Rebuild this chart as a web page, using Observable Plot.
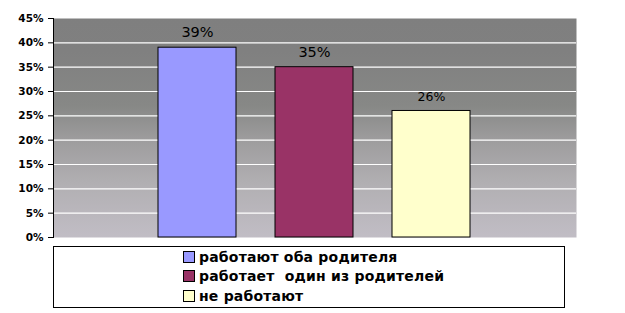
<!DOCTYPE html>
<html>
<head>
<meta charset="utf-8">
<script src="https://cdn.jsdelivr.net/npm/d3@7"></script>
<script src="https://cdn.jsdelivr.net/npm/@observablehq/plot@0.6"></script>
<style>
  body { margin: 0; background: #fff; width: 625px; height: 313px; overflow: hidden; }
  #chart { position: relative; }
  #legend { position: absolute; left: 53px; top: 246px; width: 510px; height: 60px; border: 1px solid #000; box-sizing: content-box; font: bold 14px "DejaVu Sans", sans-serif; color: #000; }
  .item { position: absolute; left: 129px; height: 16px; display: flex; align-items: center; white-space: pre; letter-spacing: 0.2px; }
  .sw { width: 10px; height: 10px; border: 1px solid #000; margin-right: 4px; }
</style>
</head>
<body>
<div id="chart"></div>
<script>
const categories = ["работают оба родителя", "работает  один из родителей", "не работают"];
const values = [0.39, 0.35, 0.26];
const labels = ["39%", "35%", "26%"];
const colors = ["#9999ff", "#993366", "#ffffcc"];
const yTicks = [0, 0.05, 0.10, 0.15, 0.20, 0.25, 0.30, 0.35, 0.40, 0.45];
const gridTicks = [0.05, 0.10, 0.15, 0.20, 0.25, 0.30, 0.35, 0.40];

const data = categories.map((c, i) => ({cat: c, value: values[i], label: labels[i], color: colors[i]}));

const plot = Plot.plot({
  width: 625,
  height: 242,
  marginLeft: 53,
  marginRight: 49,
  marginTop: 18,
  marginBottom: 5,
  style: {background: "transparent", overflow: "visible"},
  x: {domain: categories, paddingInner: 0.333, paddingOuter: 0.9, axis: null},
  y: {domain: [0, 0.45], axis: null},
  marks: [
    Plot.frame({fill: "url(#bg)", stroke: "none"}),
    Plot.ruleY(gridTicks, {stroke: "#ffffff", strokeWidth: 1.2}),
    Plot.axisY(yTicks, {
      label: null,
      tickFormat: d => Math.round(d * 100) + "%",
      tickSize: 5, tickPadding: 5, stroke: "#000", strokeOpacity: 1,
      fontFamily: "DejaVu Sans", fontWeight: "bold", fontSize: 10.5, fill: "#000"
    }),
    Plot.frame({anchor: "left", stroke: "#000", strokeOpacity: 1}),
    Plot.barY(data, {x: "cat", y: "value", fill: "color", stroke: "#000", strokeWidth: 1}),
    Plot.text(data.slice(0, 2), {x: "cat", y: "value", text: "label", dy: -15, fontFamily: "DejaVu Sans", fontSize: 14.5, fill: "#000"}),
    Plot.text(data.slice(2), {x: "cat", y: "value", text: "label", dy: -14, fontFamily: "DejaVu Sans", fontSize: 12.5, fill: "#000"})
  ]
});

// gradient background definition
const ns = "http://www.w3.org/2000/svg";
const defs = document.createElementNS(ns, "defs");
const grad = document.createElementNS(ns, "linearGradient");
grad.setAttribute("id", "bg");
grad.setAttribute("x1", "0"); grad.setAttribute("y1", "0");
grad.setAttribute("x2", "0"); grad.setAttribute("y2", "1");
[[0, "#7f7f7f"], [0.15, "#808080"], [0.4, "#878886"], [0.55, "#9d9c9d"], [0.75, "#b1afb2"], [1, "#c1bdc5"]].forEach(([o, c]) => {
  const s = document.createElementNS(ns, "stop");
  s.setAttribute("offset", o); s.setAttribute("stop-color", c);
  grad.appendChild(s);
});
defs.appendChild(grad);
plot.insertBefore(defs, plot.firstChild);

const chart = document.getElementById("chart");
chart.appendChild(plot);

// legend
const legend = document.createElement("div");
legend.id = "legend";
const rowTops = [2, 21, 41];
categories.forEach((c, i) => {
  const it = document.createElement("div");
  it.className = "item";
  it.style.top = rowTops[i] + "px";
  const sw = document.createElement("span");
  sw.className = "sw";
  sw.style.background = colors[i];
  const tx = document.createElement("span");
  tx.textContent = c;
  it.appendChild(sw); it.appendChild(tx);
  legend.appendChild(it);
});
chart.appendChild(legend);
</script>
</body>
</html>
